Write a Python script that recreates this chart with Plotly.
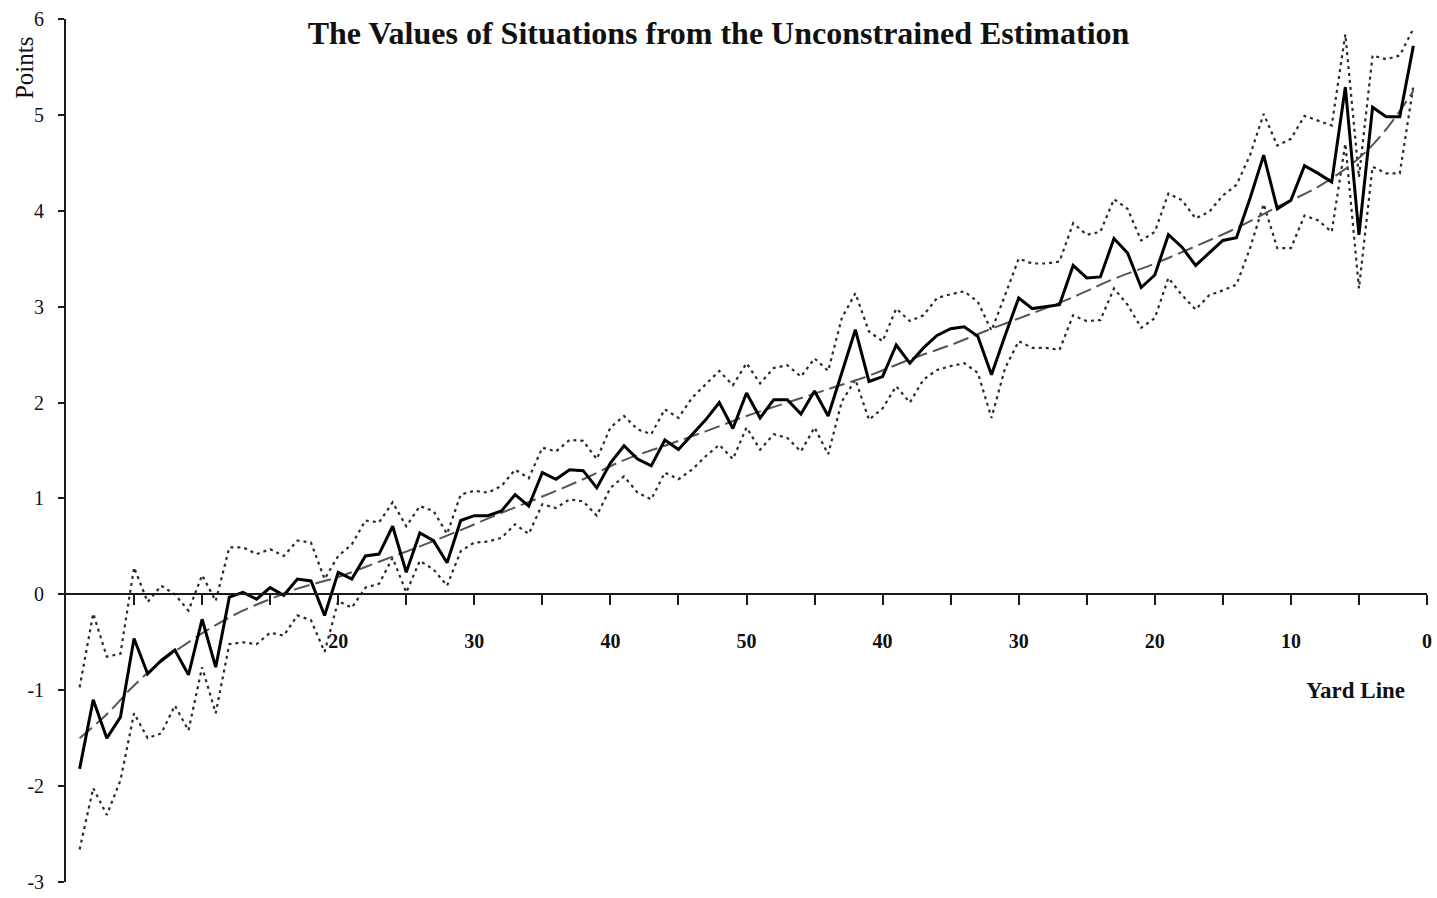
import plotly.graph_objects as go

# Yard position measured from the team's own goal line (1 .. 99)
yards = list(range(1, 100))

# Estimated value of each field position (points)
value = [
    -1.82, -1.10, -1.50, -1.28, -0.46, -0.83, -0.69, -0.58, -0.84, -0.26,
    -0.76, -0.03, 0.02, -0.05, 0.07, -0.01, 0.16, 0.14, -0.22, 0.23,
    0.16, 0.40, 0.42, 0.71, 0.23, 0.64, 0.56, 0.33, 0.77, 0.82,
    0.82, 0.87, 1.04, 0.92, 1.27, 1.20, 1.30, 1.29, 1.11, 1.37,
    1.55, 1.41, 1.34, 1.61, 1.51, 1.67, 1.82, 2.00, 1.73, 2.10,
    1.84, 2.03, 2.03, 1.88, 2.12, 1.86, 2.31, 2.76, 2.22, 2.27,
    2.60, 2.41, 2.57, 2.70, 2.77, 2.79, 2.69, 2.29, 2.70, 3.09,
    2.98, 3.00, 3.02, 3.43, 3.30, 3.31, 3.71, 3.56, 3.20, 3.33,
    3.75, 3.62, 3.43, 3.56, 3.69, 3.72, 4.13, 4.58, 4.02, 4.11,
    4.47, 4.39, 4.30, 5.29, 3.75, 5.08, 4.98, 4.98, 5.72,
]

# Upper and lower confidence bounds
upper = [
    -0.97, -0.20, -0.65, -0.62, 0.28, -0.08, 0.09, 0.00, -0.17, 0.20,
    -0.07, 0.49, 0.49, 0.42, 0.47, 0.40, 0.56, 0.54, 0.16, 0.40,
    0.52, 0.77, 0.75, 0.96, 0.71, 0.92, 0.87, 0.63, 1.04, 1.08,
    1.06, 1.13, 1.30, 1.21, 1.53, 1.49, 1.61, 1.60, 1.41, 1.74,
    1.86, 1.72, 1.67, 1.93, 1.84, 2.05, 2.19, 2.33, 2.18, 2.41,
    2.20, 2.36, 2.39, 2.27, 2.46, 2.33, 2.88, 3.14, 2.74, 2.64,
    2.98, 2.85, 2.91, 3.09, 3.13, 3.16, 3.05, 2.75, 3.12, 3.50,
    3.45, 3.45, 3.47, 3.87, 3.75, 3.78, 4.12, 4.02, 3.69, 3.78,
    4.18, 4.11, 3.92, 3.99, 4.16, 4.27, 4.58, 5.01, 4.68, 4.75,
    4.99, 4.94, 4.89, 5.84, 4.35, 5.62, 5.58, 5.62, 5.90,
]

lower = [
    -2.66, -2.02, -2.30, -1.94, -1.24, -1.50, -1.45, -1.16, -1.42, -0.76,
    -1.24, -0.52, -0.50, -0.52, -0.40, -0.43, -0.22, -0.27, -0.60, -0.07,
    -0.14, 0.07, 0.11, 0.38, 0.02, 0.35, 0.26, 0.09, 0.45, 0.54,
    0.55, 0.59, 0.73, 0.63, 0.94, 0.90, 0.99, 0.97, 0.82, 1.11,
    1.23, 1.06, 0.99, 1.27, 1.20, 1.30, 1.44, 1.56, 1.41, 1.74,
    1.51, 1.67, 1.63, 1.49, 1.74, 1.46, 2.01, 2.24, 1.82, 1.94,
    2.17, 2.00, 2.24, 2.34, 2.38, 2.41, 2.31, 1.84, 2.36, 2.64,
    2.57, 2.57, 2.55, 2.91, 2.85, 2.86, 3.19, 3.02, 2.78, 2.88,
    3.30, 3.12, 2.97, 3.12, 3.17, 3.23, 3.61, 4.07, 3.61, 3.61,
    3.95, 3.90, 3.78, 4.70, 3.19, 4.46, 4.39, 4.39, 5.30,
]

# Smoothed value curve
trend_yards = [1, 3, 5, 7, 9, 11, 13, 15, 17, 20, 23, 26, 29, 32, 35, 38, 41,
               44, 47, 50, 53, 56, 59, 62, 65, 68, 71, 74, 77, 80, 83, 86, 89,
               92, 95, 97, 99]
trend_value = [-1.50, -1.25, -0.95, -0.70, -0.50, -0.32, -0.17, -0.05, 0.06,
               0.18, 0.34, 0.50, 0.67, 0.85, 1.02, 1.20, 1.40, 1.55, 1.70,
               1.86, 2.00, 2.14, 2.28, 2.45, 2.60, 2.77, 2.93, 3.10, 3.29,
               3.45, 3.63, 3.82, 4.04, 4.25, 4.55, 4.85, 5.25]

# Field markings: own half counts up to 50, opponent's half counts down to 0
tick_yards = list(range(5, 101, 5))
tick_text = ["", "", "", "20", "", "30", "", "40", "", "50",
             "", "40", "", "30", "", "20", "", "10", "", "0"]

y_ticks = [-3, -2, -1, 0, 1, 2, 3, 4, 5, 6]
y_tick_text = ["-3", "-2", "-1", "0", "1", "2", "3", "4", "5", "6"]

SERIF = "Liberation Serif, Times New Roman, serif"

fig = go.Figure()

for bound in (upper, lower):
    fig.add_trace(go.Scatter(
        x=yards, y=bound, mode="lines",
        line=dict(color="#2b2b2b", width=2.2, dash="3px,4px"),
        showlegend=False, hoverinfo="skip",
    ))

fig.add_trace(go.Scatter(
    x=trend_yards, y=trend_value, mode="lines",
    line=dict(color="#555555", width=2, dash="16px,6px", shape="spline"),
    showlegend=False, hoverinfo="skip",
))

fig.add_trace(go.Scatter(
    x=yards, y=value, mode="lines",
    line=dict(color="#000000", width=3),
    showlegend=False,
))

fig.update_layout(
    width=1437, height=898,
    margin=dict(l=66, r=5, t=19, b=14),
    paper_bgcolor="white", plot_bgcolor="white",
    title=dict(
        text="The Values of Situations from the Unconstrained Estimation",
        x=0.5, xanchor="center", xref="container",
        y=1 - 33 / 898, yanchor="middle", yref="container",
        font=dict(family=SERIF, size=32, color="#111111", weight="bold"),
    ),
    xaxis=dict(
        range=[0, 100], anchor="free", position=1 / 3,
        showgrid=False, zeroline=False,
        showline=True, linecolor="#1a1a1a", linewidth=1.8,
        tickmode="array", tickvals=tick_yards, ticktext=tick_text,
        ticks="outside", ticklen=10, tickwidth=1.6, tickcolor="#1a1a1a",
        ticklabelstandoff=19,
        tickfont=dict(family=SERIF, size=20, color="#111111", weight="bold"),
    ),
    yaxis=dict(
        range=[-3, 6],
        showgrid=False, zeroline=False,
        showline=True, linecolor="#1a1a1a", linewidth=1.8,
        tickmode="array", tickvals=y_ticks, ticktext=y_tick_text,
        ticks="outside", ticklen=6, tickwidth=1.6, tickcolor="#1a1a1a",
        ticklabelstandoff=10,
        tickfont=dict(family=SERIF, size=20, color="#111111"),
    ),
    annotations=[
        dict(text="Points", xref="paper", yref="paper",
             x=(25 - 66) / 1366, y=1 - (68 - 19) / 865,
             xanchor="center", yanchor="middle", textangle=-90,
             showarrow=False,
             font=dict(family=SERIF, size=25, color="#111111")),
        dict(text="Yard Line", xref="paper", yref="paper",
             x=(1360 - 66) / 1366, y=1 - (692 - 19) / 865,
             xanchor="center", yanchor="middle", showarrow=False,
             font=dict(family=SERIF, size=23, color="#111111", weight="bold")),
    ],
)

fig.write_html("out.html")
